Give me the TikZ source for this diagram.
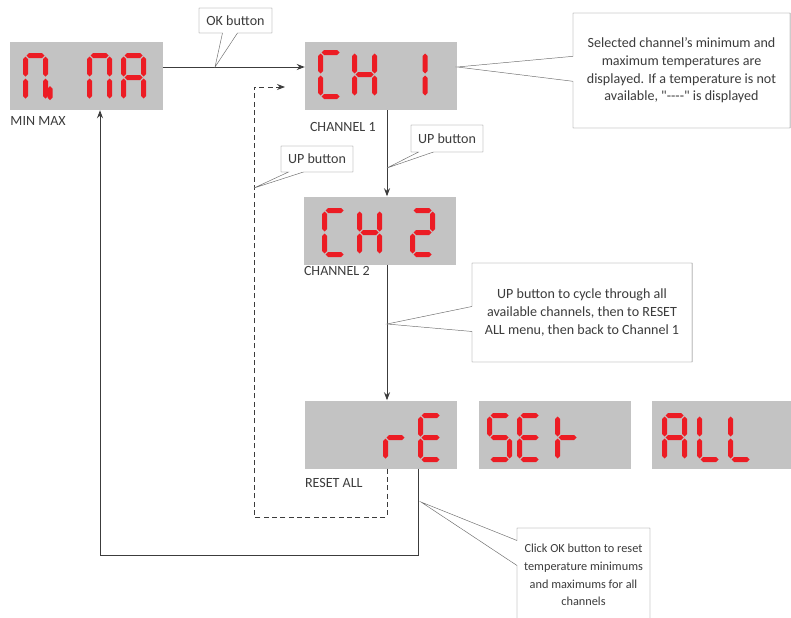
\documentclass[tikz,border=0pt]{standalone}
\usepackage{fontspec}
\setmainfont{Carlito}
\usetikzlibrary{arrows.meta,positioning,shapes.callouts,calc}
\definecolor{dispgray}{RGB}{195,195,195}
\definecolor{segred}{RGB}{236,28,36}
\definecolor{linegray}{RGB}{60,60,60}
\definecolor{notegray}{RGB}{110,110,110}
\tikzset{
    dispbox/.style={fill=dispgray, minimum width=4.56cm, minimum height=2.04cm, inner sep=0pt},
    lbl/.style={font=\fontsize{12}{14}\selectfont, text=linegray, inner sep=0pt},
    note/.style={rectangle callout, draw=notegray, fill=white, align=center,
        font=\fontsize{12}{15}\selectfont, text=linegray, inner sep=2pt},
    flowline/.style={draw=linegray, line width=0.8pt},
    flowarrow/.style={flowline, -{Stealth[length=2.4mm, width=1.8mm]}}
}
% seven segment pieces (px, y down)
\newcommand{\segh}[3]{\fill[segred] (#1,#3) -- (#1+2.5,#3-2.5) -- (#2-2.5,#3-2.5) -- (#2,#3) -- (#2-2.5,#3+2.5) -- (#1+2.5,#3+2.5) -- cycle;}
\newcommand{\segv}[3]{\fill[segred] (#1,#2) -- (#1+2.5,#2+2.5) -- (#1+2.5,#3-2.5) -- (#1,#3) -- (#1-2.5,#3-2.5) -- (#1-2.5,#2+2.5) -- cycle;}
\newcommand{\dsega}[2]{\segh{#1+1}{#1+19}{#2}}
\newcommand{\dsegb}[2]{\segv{#1+20}{#2+1}{#2+21}}
\newcommand{\dsegc}[2]{\segv{#1+20}{#2+23}{#2+43}}
\newcommand{\dsegd}[2]{\segh{#1+1}{#1+19}{#2+44}}
\newcommand{\dsege}[2]{\segv{#1}{#2+23}{#2+43}}
\newcommand{\dsegf}[2]{\segv{#1}{#2+1}{#2+21}}
\newcommand{\dsegg}[2]{\segh{#1+1}{#1+19}{#2+22}}
\newcommand{\digseg}[3]{\foreach \s in {#3}{\csname dseg\s\endcsname{#1}{#2}}}

\begin{document}
\begin{tikzpicture}[x=0.03cm, y=-0.03cm]
\useasboundingbox (0,0) rectangle (791,617);
% display boxes
\node[dispbox] (minmax) at (86.5,76) {};
\node[dispbox] (ch1) at (381,76) {};
\node[dispbox] (ch2) at (380,230.5) {};
\node[dispbox] (rst) at (381,434.5) {};
\node[dispbox] (set) at (554.5,435) {};
\node[dispbox] (all) at (728,435) {};
% red digits
\digseg{25.5}{55.5}{a,b,c,e,f}
\segv{50}{86}{100}
\digseg{89.5}{55.5}{a,b,c,e,f}
\digseg{123.5}{55.5}{a,b,c,e,f,g}
\digseg{320.5}{52.5}{a,d,e,f}
\digseg{354.5}{52.5}{b,c,e,f,g}
\digseg{425}{52.5}{e,f}
\digseg{324.5}{210.5}{a,d,e,f}
\digseg{359.5}{210.5}{b,c,e,f,g}
\digseg{412.5}{210.5}{a,b,d,e,g}
\digseg{385.5}{415.5}{e,g}
\digseg{420.5}{415.5}{a,d,e,f,g}
\digseg{489.5}{415.5}{a,c,d,f,g}
\digseg{519.5}{415.5}{a,d,e,f,g}
\digseg{557.5}{415.5}{e,f,g}
\digseg{664.5}{415.5}{a,b,c,e,f,g}
\digseg{699.5}{415.5}{d,e,f}
\digseg{730.5}{415.5}{d,e,f}
% labels
\node[lbl, below right=5pt and 0pt of minmax.south west] (minmaxlbl) {MIN MAX};
\node[lbl, below right=10pt and 0.15cm of ch1.south west] (ch1lbl) {CHANNEL 1};
\node[lbl, below right=1pt and 0pt of ch2.south west] (ch2lbl) {CHANNEL 2};
\node[lbl, below right=8pt and 0pt of rst.south west] (rstlbl) {RESET ALL};
% helper points
\coordinate (colx) at (387,0);
\coordinate (okx) at (418,0);
\coordinate (oktip) at (215,67);
\coordinate (uptipr) at (387,168);
\coordinate (uptipl) at (254,188);
\coordinate (cycletip) at (387,324);
\coordinate (clicktip) at (421,502);
\coordinate (dashlow) at (254,517);
\coordinate (dashend) at (285,87);
\coordinate (loopbottom) at (100,555);
% connectors
\draw[flowarrow] ([yshift=2.7mm]minmax.east) -- ([yshift=2.7mm]ch1.west);
\draw[flowarrow] (ch1.south -| colx) -- (ch2.north -| colx);
\draw[flowarrow] (ch2.south -| colx) -- (rst.north -| colx);
\draw[flowarrow, dash pattern=on 1.5mm off 1mm] (rst.south -| colx) |- (dashlow) |- (dashend);
\draw[flowarrow] (rst.south -| okx) |- (loopbottom) -- (minmax.south -| loopbottom);
% callouts
\node[note, minimum width=2.19cm, minimum height=0.75cm, callout pointer width=0.45cm,
    callout absolute pointer={(oktip)}] (okbtn) at (235.5,20.5) {OK button};
\node[note, minimum width=6.51cm, minimum height=3.45cm, callout pointer width=0.75cm,
    callout absolute pointer={([yshift=2.7mm]ch1.east)}] (selnote) at (681.5,70.5)
    {Selected channel’s minimum and\\maximum temperatures are\\displayed. If a temperature is not\\available, \textquotedbl\mbox{-}\mbox{-}\mbox{-}\mbox{-}\textquotedbl{} is displayed};
\node[note, minimum width=2.16cm, minimum height=0.81cm, callout pointer width=0.45cm,
    callout absolute pointer={(uptipr)}] (upright) at (447,138.5) {UP button};
\node[note, minimum width=2.16cm, minimum height=0.78cm, callout pointer width=0.45cm,
    callout absolute pointer={(uptipl)}] (upleft) at (317,159) {UP button};
\node[note, minimum width=6.6cm, minimum height=2.97cm, callout pointer width=0.75cm,
    callout absolute pointer={(cycletip)}] (cyclenote) at (582,312.5)
    {UP button to cycle through all\\available channels, then to RESET\\ALL menu, then back to Channel 1};
\node[note, minimum width=3.99cm, minimum height=2.82cm, callout pointer width=0.75cm,
    font=\fontsize{10.5}{15}\selectfont,
    callout absolute pointer={(clicktip)}] (clicknote) at (583.5,575)
    {Click OK button to reset\\temperature minimums\\and maximums for all\\channels};
\end{tikzpicture}
\end{document}
